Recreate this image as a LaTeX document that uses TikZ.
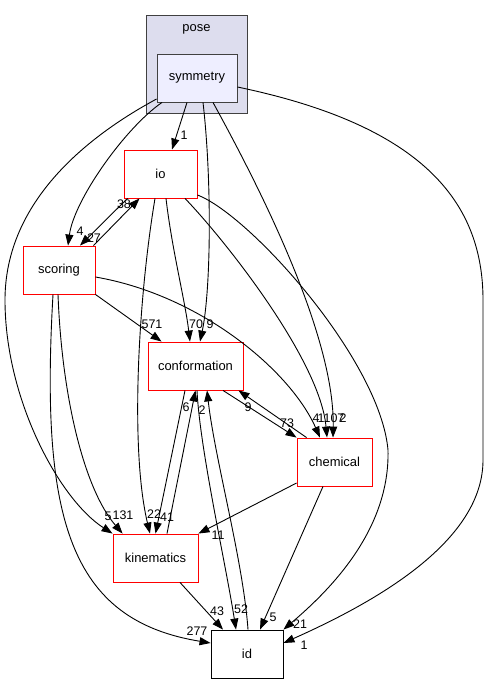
\documentclass[tikz,border=0pt]{standalone}
\usepackage{fontspec}
\setmainfont{Liberation Sans}
\usetikzlibrary{arrows.meta,calc}
\definecolor{clusterfill}{HTML}{DDDDEE}
\definecolor{symfill}{HTML}{EEEEFF}
\definecolor{dgray}{HTML}{404040}
\begin{document}
\begin{tikzpicture}[x=1bp,y=-1bp,
  box/.style={draw, line width=0.9bp, minimum height=48bp, inner sep=0pt, font=\fontsize{13}{15}\selectfont},
  rbox/.style={box, draw=red, fill=white},
  dep/.style={draw=black, line width=0.9bp, -{Triangle[length=11bp,width=8bp]}},
  lbl/.style={font=\fontsize{12.5}{14}\selectfont, inner sep=0pt}]
\useasboundingbox (0,0) rectangle (489,684);
% cluster
\node[draw=dgray, fill=clusterfill, line width=0.9bp, minimum width=101bp, minimum height=98bp, inner sep=0pt] (pose) at (196.5,64) {};
\node[font=\fontsize{13}{15}\selectfont, inner sep=0pt] (poselbl) at (196.5,29) {pose};
% nodes
\node[box, draw=dgray, fill=symfill, minimum width=80bp] (sym) at (197,78) {symmetry};
\node[rbox, minimum width=73bp] (io) at (160.5,174) {io};
\node[rbox, minimum width=72bp] (sc) at (59,270) {scoring};
\node[rbox, minimum width=95bp] (conf) at (195.5,366) {conformation};
\node[rbox, minimum width=75bp] (chem) at (334.5,462) {chemical};
\node[rbox, minimum width=85bp] (kin) at (155.5,558) {kinematics};
\node[box, draw=black, fill=white, minimum width=72bp] (id) at (247,654) {id};
% edges from symmetry
\draw[dep] ($(sym.south)+(-10,0)$) -- ($(io.north)+(11.5,0)$);
\draw[dep] ($(sym.south)+(-35,0)$) .. controls (125,128) and (74,200) .. ($(sc.north)+(9,0)$);
\draw[dep] ($(sym.west)+(0,21)$) .. controls (90,135) and (5,200) .. (5,300) .. controls (5,400) and (60,500) .. (kin.north west);
\draw[dep] ($(sym.south)+(6,0)$) .. controls (212,180) and (211,290) .. ($(conf.north)+(4.5,0)$);
\draw[dep] ($(sym.south)+(16,0)$) .. controls (250,170) and (335,330) .. ($(chem.north)+(-1.5,0)$);
\draw[dep] ($(sym.east)+(0,9)$) .. controls (420,125) and (483,200) .. (483,300) -- (483,460) .. controls (483,540) and (380,600) .. ($(id.east)+(0,-11)$);
% edges from io
\draw[dep] ($(io.south)+(-33,0)$) -- ($(sc.north)+(21,0)$);
\draw[dep] ($(io.south)+(-5.5,0)$) .. controls (138,300) and (130,450) .. ($(kin.north)+(-5.5,0)$);
\draw[dep] ($(io.south)+(5.5,0)$) .. controls (172,250) and (185,300) .. ($(conf.north)+(-5.5,0)$);
\draw[dep] ($(io.south)+(24.5,0)$) .. controls (225,240) and (320,360) .. ($(chem.north)+(-7.5,0)$);
\draw[dep] ($(io.east)+(0,21)$) .. controls (250,215) and (380,360) .. (388,450) .. controls (390,530) and (330,590) .. (id.north east);
% edges from scoring
\draw[dep] ($(sc.north east)+(-2,0)$) -- ($(io.south)+(-21,0)$);
\draw[dep] (sc.south east) -- ($(conf.north west)+(14,0)$);
\draw[dep] ($(sc.east)+(0,7)$) .. controls (200,295) and (290,370) .. ($(chem.north)+(-14.5,0)$);
\draw[dep] ($(sc.south)+(-1,0)$) .. controls (62,400) and (85,490) .. ($(kin.north west)+(10,0)$);
\draw[dep] ($(sc.south)+(-6,0)$) .. controls (40,520) and (70,620) .. ($(id.west)+(0,-11)$);
% conformation / kinematics / id / chemical
\draw[dep] ($(conf.south)+(-10.5,0)$) -- (kin.north);
\draw[dep] ($(kin.north)+(11.5,0)$) -- (conf.south);
\draw[dep] ($(conf.south)+(1.5,0)$) .. controls (200,450) and (225,560) .. ($(id.north)+(-11,0)$);
\draw[dep] ($(id.north)+(1,0)$) .. controls (243,560) and (215,460) .. ($(conf.south)+(11.5,0)$);
\draw[dep] ($(conf.south)+(27.5,0)$) -- (chem.north west);
\draw[dep] ($(chem.north west)+(10,0)$) -- ($(conf.south east)+(-5,0)$);
\draw[dep] ($(chem.west)+(0,21)$) -- (kin.north east);
\draw[dep] ($(chem.south)+(-11.5,0)$) -- ($(id.north)+(13,0)$);
\draw[dep] ($(kin.south)+(24.5,0)$) -- ($(id.north)+(-24,0)$);
% labels
\node[lbl] (l01) at (184,135) {1};
\node[lbl] (l02) at (80,231) {4};
\node[lbl] (l03) at (94,238) {27};
\node[lbl] (l04) at (124,204) {38};
\node[lbl] (l05) at (152,324) {571};
\node[lbl] (l06) at (196,324) {70};
\node[lbl] (l07) at (210,324) {9};
\node[lbl] (l08) at (186,407) {6};
\node[lbl] (l09) at (202,410) {2};
\node[lbl] (l10) at (248,407) {9};
\node[lbl] (l11) at (287,423) {73};
\node[lbl] (l12) at (316,418) {4};
\node[lbl] (l13) at (331,418) {1107};
\node[lbl] (l14) at (343,418) {2};
\node[lbl] (l15) at (108,516) {5};
\node[lbl] (l16) at (123,515) {131};
\node[lbl] (l17) at (154,514) {22};
\node[lbl] (l18) at (167,517) {41};
\node[lbl] (l19) at (218,535) {11};
\node[lbl] (l20) at (217,611) {43};
\node[lbl] (l21) at (241,609) {52};
\node[lbl] (l22) at (273,617) {5};
\node[lbl] (l23) at (300,624) {21};
\node[lbl] (l24) at (304,645) {1};
\node[lbl] (l25) at (197,631) {277};
\end{tikzpicture}
\end{document}
